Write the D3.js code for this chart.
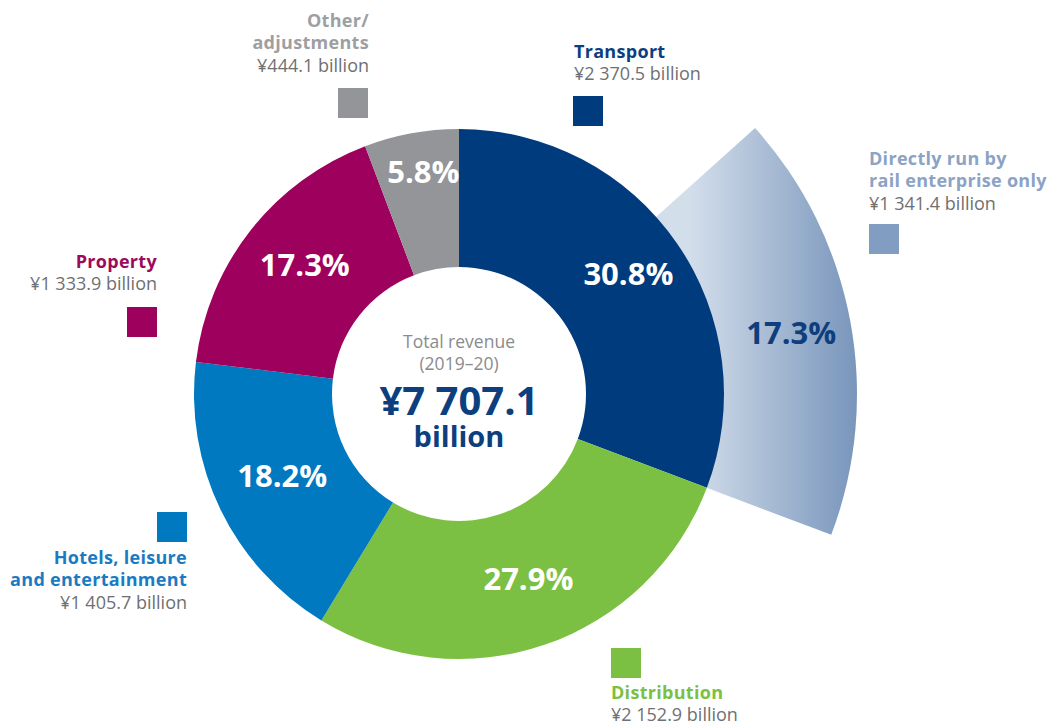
<!DOCTYPE html>
<html>
<head>
<meta charset="utf-8">
<script src="https://cdn.jsdelivr.net/npm/d3@7"></script>
<style>
  html, body { margin: 0; padding: 0; background: #fff; }
  svg { display: block; font-family: "Open Sans", sans-serif; }
</style>
</head>
<body>
<div id="chart"></div>
<script>
// revenue by segment, clockwise from 12 o'clock (¥ billion)
const segments = ["Transport", "Distribution", "Hotels, leisure and entertainment", "Property", "Other/adjustments"];
const revenue = [2370.5, 2152.9, 1405.7, 1333.9, 444.1];
const shareLabels = ["30.8%", "27.9%", "18.2%", "17.3%", "5.8%"];
const valueLabels = ["¥2 370.5 billion", "¥2 152.9 billion", "¥1 405.7 billion", "¥1 333.9 billion", "¥444.1 billion"];
const colors = ["#003b7e", "#7cc043", "#0079c1", "#9e005d", "#939598"];
const textColors = ["#0d3f7f", "#7bc043", "#1b7bc1", "#9b0b5c", "#9d9fa2"];

// part of transport run by the rail enterprise itself
const subName = "Directly run by rail enterprise only";
const subRevenue = 1341.4;
const subShareLabel = "17.3%";
const subValueLabel = "¥1 341.4 billion";

const totalLabel = "¥7 707.1";

// legend layout: square top-left, text anchor, title lines
const legendLayout = [
  { sq: [573, 96],  anchor: "start", x: 574, y: 58,  lines: ["Transport"] },
  { sq: [611, 648], anchor: "start", x: 611, y: 699, lines: ["Distribution"] },
  { sq: [157, 512], anchor: "end",   x: 187, y: 564, lines: ["Hotels, leisure", "and entertainment"] },
  { sq: [127, 307], anchor: "end",   x: 157, y: 268, lines: ["Property"] },
  { sq: [338, 88],  anchor: "end",   x: 369, y: 27,  lines: ["Other/", "adjustments"] }
];
const subLegend = { sq: [869, 224], anchor: "start", x: 869, y: 165, lines: ["Directly run by", "rail enterprise only"] };

const W = 1048, H = 725;
const cx = 459, cy = 394;
const rIn = 127, rOut = 265, rSub = 398;
const lineH = 22.3, sqSize = 30;

const svg = d3.select("#chart").append("svg")
  .attr("width", W).attr("height", H)
  .attr("viewBox", `0 0 ${W} ${H}`);

// gradient in the wedge's local (centred) coordinates
const grad = svg.append("defs").append("linearGradient")
  .attr("id", "subGrad")
  .attr("gradientUnits", "userSpaceOnUse")
  .attr("x1", 690 - cx).attr("y1", 0).attr("x2", 858 - cx).attr("y2", 0);
grad.append("stop").attr("offset", 0).attr("stop-color", "#d3deeb");
grad.append("stop").attr("offset", 1).attr("stop-color", "#7895bb");

const total = d3.sum(revenue);
const pie = d3.pie().sort(null).value(d => d)(revenue);

const arc = d3.arc().innerRadius(rIn).outerRadius(rOut);

// extra wedge for the directly-run part, ending where transport ends
const tEnd = pie[0].endAngle;
const subArc = d3.arc().innerRadius(rOut - 1).outerRadius(rSub)
  ({ startAngle: tEnd - subRevenue / total * 2 * Math.PI, endAngle: tEnd });

svg.append("path")
  .attr("d", subArc)
  .attr("transform", `translate(${cx},${cy})`)
  .attr("fill", "url(#subGrad)");

const ring = svg.append("g").attr("transform", `translate(${cx},${cy})`);
ring.selectAll("path")
  .data(pie)
  .join("path")
  .attr("d", arc)
  .attr("fill", (d, i) => colors[i]);

// percentage labels
const labelPos = d => {
  const share = d.value / total;
  const r = share < 0.1 ? 220 : 201;
  const a = (d.startAngle + d.endAngle) / 2;
  return [Math.sin(a) * r, -Math.cos(a) * r];
};

const labels = svg.append("g").attr("transform", `translate(${cx},${cy})`);
labels.selectAll("text.pct")
  .data(pie)
  .join("text")
  .attr("class", "pct")
  .attr("x", d => labelPos(d)[0])
  .attr("y", d => labelPos(d)[1])
  .attr("dx", 4)
  .attr("dy", "0.18em")
  .attr("text-anchor", "middle")
  .attr("font-size", 31)
  .attr("font-weight", 700)
  .attr("fill", "#fff")
  .text((d, i) => shareLabels[i]);

const subMid = tEnd - subRevenue / total * Math.PI;
labels.append("text")
  .attr("x", Math.sin(subMid) * 333)
  .attr("y", -Math.cos(subMid) * 333)
  .attr("dx", 5)
  .attr("dy", "0.36em")
  .attr("text-anchor", "middle")
  .attr("font-size", 31)
  .attr("font-weight", 700)
  .attr("fill", "#0f3e7c")
  .text(subShareLabel);

// centre text
labels.append("text").attr("y", -46).attr("text-anchor", "middle")
  .attr("font-size", 17.5).attr("fill", "#8a8b8e").text("Total revenue");
labels.append("text").attr("y", -24).attr("text-anchor", "middle")
  .attr("font-size", 17.5).attr("fill", "#8a8b8e").text("(2019–20)");
labels.append("text").attr("y", 21).attr("text-anchor", "middle")
  .attr("font-size", 40).attr("font-weight", 700).attr("fill", "#0d3f7f").text(totalLabel);
labels.append("text").attr("y", 53).attr("text-anchor", "middle")
  .attr("font-size", 29).attr("font-weight", 700).attr("fill", "#0d3f7f").text("billion");

// legends
function drawLegend(lay, color, textColor, value) {
  const lg = svg.append("g");
  lg.append("rect")
    .attr("x", lay.sq[0]).attr("y", lay.sq[1])
    .attr("width", sqSize).attr("height", sqSize)
    .attr("fill", color);
  lay.lines.forEach((t, j) => {
    lg.append("text")
      .attr("x", lay.x).attr("y", lay.y + j * lineH)
      .attr("text-anchor", lay.anchor)
      .attr("font-size", 18).attr("font-weight", 700)
      .attr("letter-spacing", 0.3)
      .attr("fill", textColor)
      .text(t);
  });
  lg.append("text")
    .attr("x", lay.x).attr("y", lay.y + lay.lines.length * lineH)
    .attr("text-anchor", lay.anchor)
    .attr("font-size", 18)
    .attr("fill", "#6f7073")
    .text(value);
}

segments.forEach((s, i) => drawLegend(legendLayout[i], colors[i], textColors[i], valueLabels[i]));
drawLegend(subLegend, "#819dc2", "#8ba3c4", subValueLabel);
</script>
</body>
</html>
